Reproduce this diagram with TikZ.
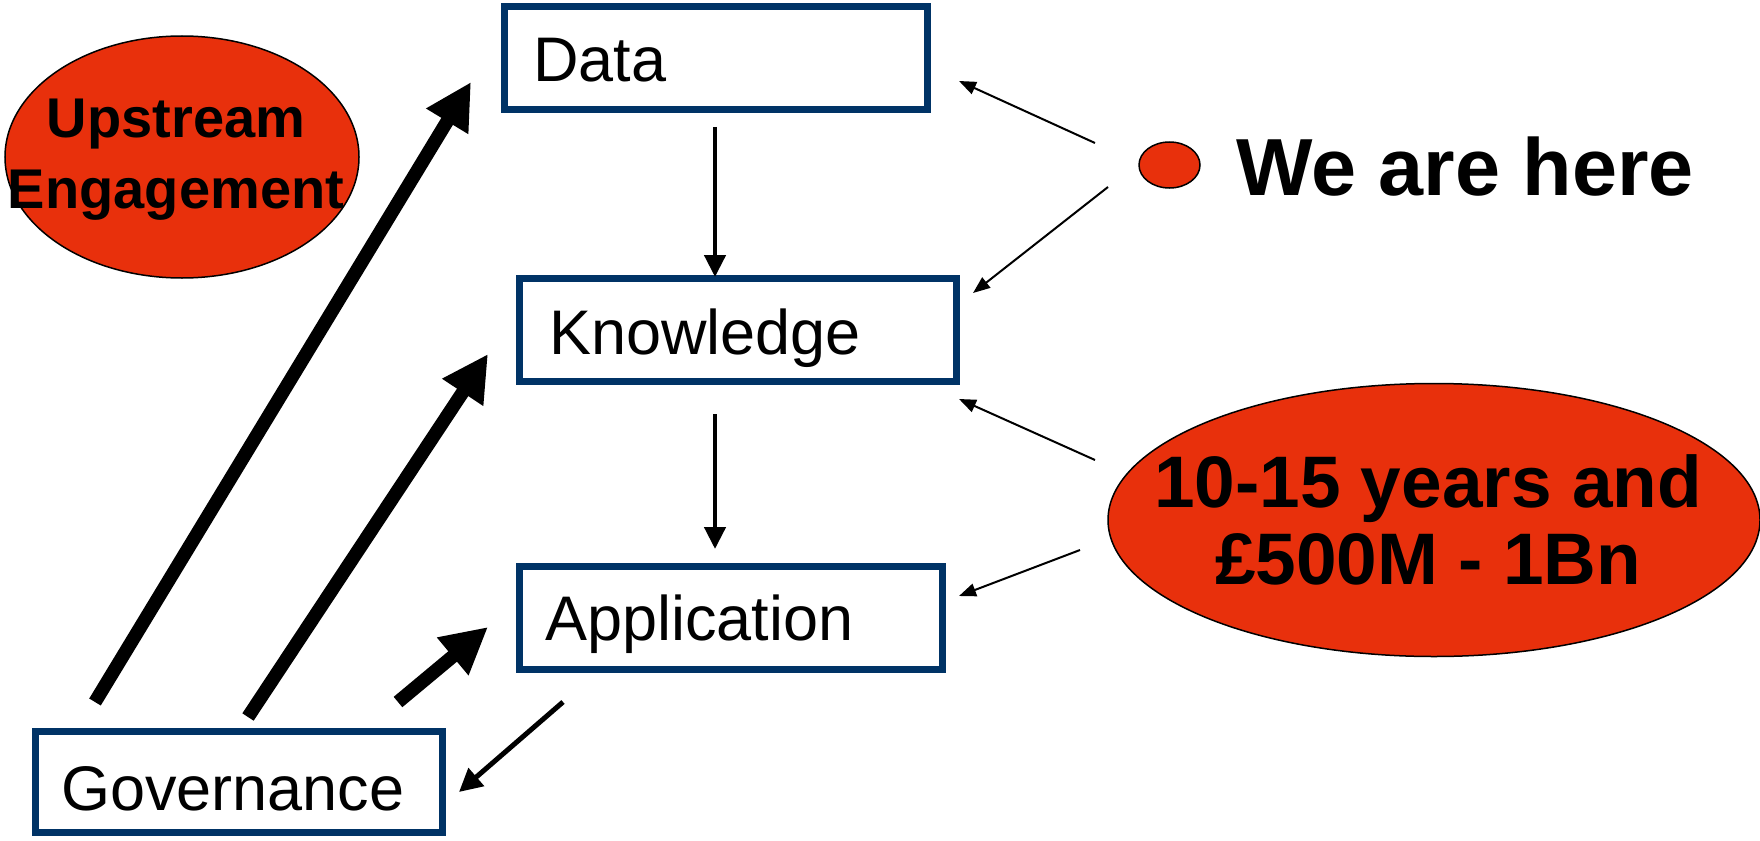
\documentclass[tikz,border=0pt]{standalone}
\usepackage{fontspec}
\setmainfont{Liberation Sans}
\usetikzlibrary{arrows.meta,shapes.geometric}
\definecolor{navy}{RGB}{0,51,102}
\definecolor{redfill}{RGB}{232,48,12}
\begin{document}
\begin{tikzpicture}[x=1pt,y=-1pt,
  box/.style={draw=navy,line width=7pt,fill=white,rectangle,inner sep=0pt},
  boxtext/.style={inner sep=0pt,anchor=base west,font=\fontsize{63}{70}\selectfont},
  blob/.style={ellipse,draw=black,line width=1.5pt,fill=redfill,inner sep=0pt},
  blobtext/.style={inner sep=0pt,align=center},
  thickarrow/.style={line width=13.5pt,-{Triangle[length=46pt,width=46pt]}},
  midarrow/.style={line width=5pt,-{Triangle[length=23pt,width=23pt]}},
  downarrow/.style={line width=4.5pt,-{Triangle[length=22pt,width=21pt]}},
  thinarrow/.style={line width=2pt,-{Triangle[length=17pt,width=13pt]}}]
\useasboundingbox (0,0) rectangle (1760,840);
\fill[white] (0,0) rectangle (1760,840);

% boxes
\node[box,minimum width=423pt,minimum height=103pt] (data) at (716,58) {};
\node[box,minimum width=437pt,minimum height=103pt] (know) at (738,330) {};
\node[box,minimum width=423pt,minimum height=103pt] (app) at (731,618) {};
\node[box,minimum width=407pt,minimum height=101pt] (gov) at (239,782) {};

\node[boxtext] (datat) at (533,82) {Data};
\node[boxtext] (knowt) at (549,354) {Knowledge};
\node[boxtext] (appt) at (545,640) {Application};
\node[boxtext] (govt) at (61,810) {Governance};

% ellipses
\node[blob,minimum width=354pt,minimum height=242pt] (up) at (182,157) {};
\node[blobtext,font=\bfseries\fontsize{56}{71}\selectfont] (upt) at (176,160) {Upstream\\Engagement};
\node[blob,minimum width=652pt,minimum height=273pt] (cost) at (1434,520) {};
\node[blobtext,font=\bfseries\fontsize{73}{77}\selectfont] (costt) at (1428,520) {10-15 years and\\\pounds500M - 1Bn};
\node[blob,minimum width=61pt,minimum height=46pt] (dot) at (1169.5,165) {};
\node[inner sep=0pt,anchor=base west,font=\bfseries\fontsize{81}{90}\selectfont] (here) at (1236,195) {We are here};

% coordinates
\coordinate (g1) at (95,702);   \coordinate (d1) at (471,82);
\coordinate (g2) at (248,717);  \coordinate (k2) at (488,354);
\coordinate (g3) at (398,702);  \coordinate (a3) at (488,627);
\coordinate (a6) at (563,702);  \coordinate (g6) at (459,792);
\coordinate (d4) at (715,127);  \coordinate (k4) at (715,277);
\coordinate (k5) at (715,414);  \coordinate (a5) at (715,549);
\coordinate (h7) at (1095,143); \coordinate (d7) at (959,81);
\coordinate (h8) at (1108,187); \coordinate (k8) at (973,293);
\coordinate (c9) at (1095,460); \coordinate (k9) at (959,399);
\coordinate (c10) at (1080,550);\coordinate (a10) at (959,596);

% connectors
\draw[thickarrow] (g1) -- (d1);
\draw[thickarrow] (g2) -- (k2);
\draw[thickarrow] (g3) -- (a3);
\draw[midarrow] (a6) -- (g6);
\draw[downarrow] (d4) -- (k4);
\draw[downarrow] (k5) -- (a5);
\draw[thinarrow] (h7) -- (d7);
\draw[thinarrow] (h8) -- (k8);
\draw[thinarrow] (c9) -- (k9);
\draw[thinarrow] (c10) -- (a10);
\end{tikzpicture}
\end{document}
